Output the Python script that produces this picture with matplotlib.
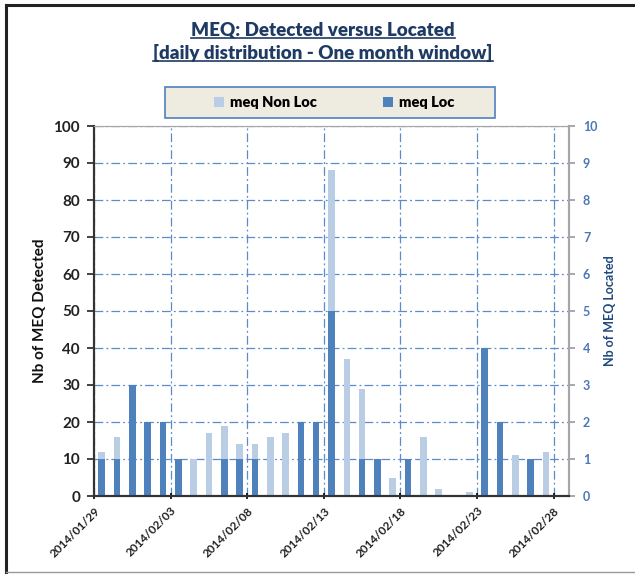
import numpy as np
import pandas as pd
import matplotlib
matplotlib.use("Agg")
import matplotlib.pyplot as plt
import matplotlib.dates as mdates
from matplotlib.lines import Line2D
from matplotlib.patches import Rectangle, Patch

plt.rcParams['font.family'] = ['Lato', 'DejaVu Sans']

# daily counts, 2014/01/29 .. 2014/02/28
days = pd.date_range("2014-01-29", periods=31, freq="D")
meq_detected = [12, 16, 30, 20, 20, 10, 10, 17, 19, 14, 14, 16, 17, 20, 20, 88,
                37, 29, 10, 5, 10, 16, 2, 0, 1, 40, 20, 11, 10, 12, 0]
meq_located = [1, 1, 3, 2, 2, 1, 0, 0, 1, 1, 1, 0, 0, 2, 2, 5,
               0, 1, 1, 0, 1, 0, 0, 0, 0, 4, 2, 0, 1, 0, 0]
tick_days = ["2014-01-29", "2014-02-03", "2014-02-08", "2014-02-13",
             "2014-02-18", "2014-02-23", "2014-02-28"]

light = "#B9CDE5"
dark = "#4F81BD"
navy = "#1F3B63"
grid_c = "#5B8BC9"

W, H = 635, 574
fig = plt.figure(figsize=(W / 100, H / 100), dpi=100)
ax = fig.add_axes([94 / W, 1 - 496 / H, (569 - 94) / W, (496 - 126) / H])
ax2 = ax.twinx()

x = mdates.date2num(days) + 0.5
ax.bar(x, meq_detected, width=0.43, color=light, zorder=2)
ax2.bar(x, meq_located, width=0.43, color=dark, zorder=2)

x0 = mdates.date2num(pd.Timestamp("2014-01-29"))
ax.set_xlim(x0, x0 + 31)
ax.set_ylim(0, 100)
ax2.set_ylim(0, 10)
ax.set_yticks(np.arange(0, 101, 10))
ax2.set_yticks(np.arange(0, 11, 1))
ax.set_xticks(mdates.date2num(pd.to_datetime(tick_days)))
ax.xaxis.set_major_formatter(mdates.DateFormatter("%Y/%m/%d"))

ax.grid(True, color=grid_c, linestyle=(0, (7, 2.5, 1.5, 2.5)), linewidth=0.9, zorder=0)
ax.set_axisbelow(True)

for lbl in ax.get_xticklabels():
    lbl.set_rotation(45)
    lbl.set_ha("right")
    lbl.set_rotation_mode("anchor")
    lbl.set_fontsize(8.5)
    lbl.set_fontweight("bold")
    lbl.set_color("#222222")

ax.tick_params(axis="y", labelsize=11, colors="#222222", length=5, width=1.2, direction="out", pad=5)
for lbl in ax.get_yticklabels():
    lbl.set_fontweight("bold")
ax.tick_params(axis="x", length=5, width=1.2, direction="inout", pad=4)
ax2.tick_params(axis="y", labelsize=9, labelcolor="#4A78B5", color="#9A9A9A", length=4, width=1.2, pad=6)
for lbl in ax2.get_yticklabels():
    lbl.set_fontweight("bold")

for a in (ax, ax2):
    a.spines["top"].set_color("#A6A6A6")
    a.spines["right"].set_color("#A6A6A6")
    a.spines["right"].set_linewidth(1.5)
    a.spines["left"].set_color("#333333")
    a.spines["left"].set_linewidth(1.5)
    a.spines["bottom"].set_color("#333333")
    a.spines["bottom"].set_linewidth(1.5)

ax.set_ylabel("Nb of MEQ Detected", fontsize=11, fontweight="bold", color="#111111", labelpad=5)
ax2.set_ylabel("Nb of MEQ Located", fontsize=9, fontweight="bold", color="#1F497D", labelpad=5)

# title with underline
t1 = fig.text(323 / W, 1 - 30 / H, "MEQ: Detected versus Located", ha="center", va="center",
              fontsize=13.5, fontweight="heavy", color=navy)
t2 = fig.text(323 / W, 1 - 53 / H, "[daily distribution - One month window]", ha="center", va="center",
              fontsize=13.5, fontweight="heavy", color=navy)
fig.canvas.draw()
r = fig.canvas.get_renderer()
for t in (t1, t2):
    bb = t.get_window_extent(r)
    yl = bb.y0 + 1
    fig.add_artist(Line2D([bb.x0 / W, bb.x1 / W], [yl / H, yl / H], color=navy, lw=1.2,
                          transform=fig.transFigure))

# legend box
fig.add_artist(Rectangle((165 / W, 1 - 118 / H), 330 / W, 31 / H, transform=fig.transFigure,
                         facecolor="#EEECE1", edgecolor="#4F81BD", lw=1.2, zorder=1))
handles = [Patch(facecolor=light, label="meq Non Loc"), Patch(facecolor=dark, label="meq Loc")]
leg = fig.legend(handles=handles, loc="center", bbox_to_anchor=(334 / W, 1 - 102.5 / H), ncol=2,
                 frameon=False, handlelength=0.7, handleheight=0.7, handletextpad=0.4,
                 columnspacing=4.5, prop={"weight": "heavy", "size": 10.5})
leg.set_zorder(3)

# outer chart frame
fig.add_artist(Line2D([6 / W, 1], [1 - 5 / H, 1 - 5 / H], color="#222222", lw=2.2, transform=fig.transFigure))
fig.add_artist(Line2D([6 / W, 6 / W], [1 - 5 / H, 1 - 572 / H], color="#222222", lw=2.2, transform=fig.transFigure))
fig.add_artist(Line2D([6 / W, 1], [1 - 572 / H, 1 - 572 / H], color="#999999", lw=1.0, transform=fig.transFigure))

fig.savefig("out.png", dpi=100)
